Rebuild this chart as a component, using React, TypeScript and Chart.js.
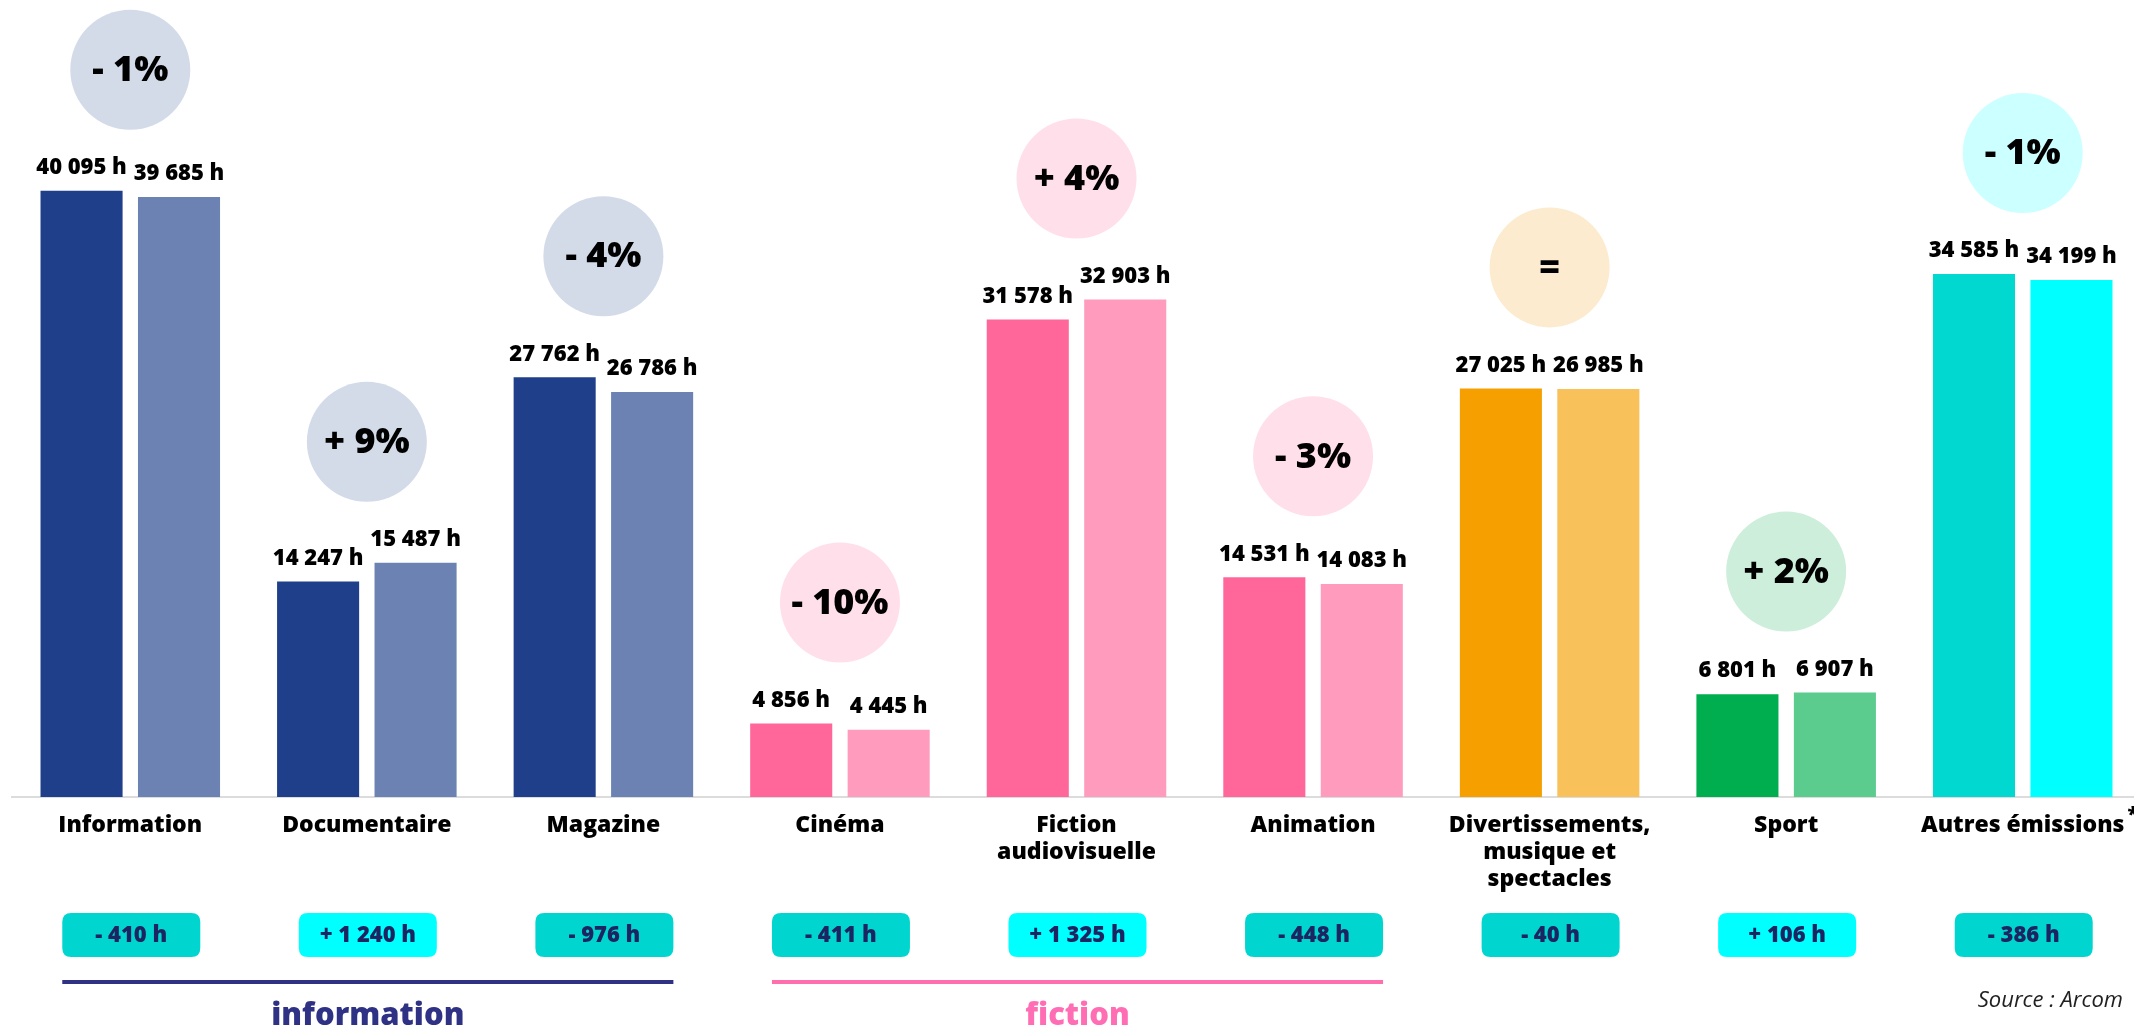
import React, { useEffect, useRef } from 'react';
import { Chart, registerables } from 'chart.js';

Chart.register(...registerables);

// ---------- data ----------
const categories: string[][] = [
  ['Information'],
  ['Documentaire'],
  ['Magazine'],
  ['Cinéma'],
  ['Fiction', 'audiovisuelle'],
  ['Animation'],
  ['Divertissements,', 'musique et', 'spectacles'],
  ['Sport'],
  ['Autres émissions'],
];
const hoursPrevious = [40095, 14247, 27762, 4856, 31578, 14531, 27025, 6801, 34585];
const hoursCurrent = [39685, 15487, 26786, 4445, 32903, 14083, 26985, 6907, 34199];
const percentLabels = ['- 1%', '+ 9%', '- 4%', '- 10%', '+ 4%', '- 3%', '=', '+ 2%', '- 1%'];
const categoryFamily = ['info', 'info', 'info', 'fiction', 'fiction', 'fiction', 'divert', 'sport', 'autres'];
const footnoteIndex = 8;
const groupNames = ['information', 'fiction'];
const groupFirst = [0, 3];
const groupLast = [2, 5];
const sourceText = 'Source : Arcom';

// ---------- styles ----------
const FONT = '"Open Sans", "DejaVu Sans", sans-serif';
const darkColor: Record<string, string> = {
  info: '#1F3F8A',
  fiction: '#FF6699',
  divert: '#F5A000',
  sport: '#00AD4F',
  autres: '#00D8D0',
};
const lightColor: Record<string, string> = {
  info: '#6B82B2',
  fiction: '#FF9CBE',
  divert: '#F8C15A',
  sport: '#5BCB8E',
  autres: '#00FFFF',
};
const bubbleColor: Record<string, string> = {
  info: '#D3DBE9',
  fiction: '#FFE0EA',
  divert: '#FCEBCF',
  sport: '#CDEEDB',
  autres: '#CCFFFF',
};
const groupColor = ['#2E3184', '#FF6EAD'];
const groupTextColor = ['#2E3184', '#FF6EB4'];

function fmtHours(v: number): string {
  return String(Math.abs(v)).replace(/\B(?=(\d{3})+(?!\d))/g, ' ') + ' h';
}

function roundRect(ctx: CanvasRenderingContext2D, x: number, y: number, w: number, h: number, r: number) {
  ctx.beginPath();
  ctx.moveTo(x + r, y);
  ctx.lineTo(x + w - r, y);
  ctx.quadraticCurveTo(x + w, y, x + w, y + r);
  ctx.lineTo(x + w, y + h - r);
  ctx.quadraticCurveTo(x + w, y + h, x + w - r, y + h);
  ctx.lineTo(x + r, y + h);
  ctx.quadraticCurveTo(x, y + h, x, y + h - r);
  ctx.lineTo(x, y + r);
  ctx.quadraticCurveTo(x, y, x + r, y);
  ctx.closePath();
}

const overlayPlugin = {
  id: 'overlay',
  afterDatasetsDraw(chart: any) {
    const ctx: CanvasRenderingContext2D = chart.ctx;
    const xs = chart.scales.x;
    const ys = chart.scales.y;
    const metas = [chart.getDatasetMeta(0), chart.getDatasetMeta(1)];
    const base = ys.getPixelForValue(0);
    ctx.save();

    // value labels above bars
    ctx.font = `800 22px ${FONT}`;
    ctx.fillStyle = '#000';
    ctx.textAlign = 'center';
    ctx.textBaseline = 'middle';
    metas.forEach((meta, di) => {
      meta.data.forEach((bar: any, i: number) => {
        const v = chart.data.datasets[di].data[i] as number;
        ctx.fillText(fmtHours(v), bar.x, bar.y - 23);
      });
    });

    // percentage bubbles
    categories.forEach((_, i) => {
      const cx = xs.getPixelForValue(i);
      const top = Math.min(metas[0].data[i].y, metas[1].data[i].y);
      const cy = top - 121;
      ctx.beginPath();
      ctx.arc(cx, cy, 60, 0, Math.PI * 2);
      ctx.fillStyle = bubbleColor[categoryFamily[i]];
      ctx.fill();
      ctx.fillStyle = '#000';
      ctx.font = `800 36px ${FONT}`;
      ctx.textAlign = 'center';
      ctx.textBaseline = 'middle';
      ctx.fillText(percentLabels[i], cx, cy + 1);
    });

    // change boxes
    const boxW = 138;
    const boxH = 44;
    const boxTop = base + 116;
    categories.forEach((_, i) => {
      const cx = xs.getPixelForValue(i) + 1;
      const d = hoursCurrent[i] - hoursPrevious[i];
      ctx.fillStyle = d > 0 ? '#00FFFF' : '#00D6CF';
      roundRect(ctx, cx - boxW / 2, boxTop, boxW, boxH, 9);
      ctx.fill();
      ctx.fillStyle = '#1C2461';
      ctx.font = `800 22px ${FONT}`;
      ctx.textAlign = 'center';
      ctx.textBaseline = 'middle';
      ctx.fillText((d > 0 ? '+ ' : '- ') + fmtHours(d), cx, boxTop + boxH / 2 + 1);
    });

    // group lines and titles
    groupNames.forEach((name, g) => {
      const x0 = xs.getPixelForValue(groupFirst[g]) + 1 - boxW / 2;
      const x1 = xs.getPixelForValue(groupLast[g]) + 1 + boxW / 2;
      ctx.fillStyle = groupColor[g];
      ctx.fillRect(x0, base + 183, x1 - x0, 4);
      ctx.fillStyle = groupTextColor[g];
      ctx.font = `800 31px ${FONT}`;
      ctx.textAlign = 'center';
      ctx.textBaseline = 'middle';
      ctx.fillText(name, (x0 + x1) / 2, base + 219);
    });

    // footnote asterisk
    ctx.font = `800 23px ${FONT}`;
    const lbl = categories[footnoteIndex][0];
    const w = ctx.measureText(lbl).width;
    const fx = xs.getPixelForValue(footnoteIndex) + w / 2 + 3;
    ctx.textAlign = 'left';
    ctx.textBaseline = 'middle';
    ctx.fillStyle = '#000';
    ctx.font = `800 20px ${FONT}`;
    ctx.fillText('*', fx, base + 18);

    // source
    ctx.font = `italic 400 22px ${FONT}`;
    ctx.fillStyle = '#222';
    ctx.textAlign = 'right';
    ctx.fillText(sourceText, 2123, base + 204);

    ctx.restore();
  },
};

export default function App() {
  const ref = useRef<HTMLCanvasElement | null>(null);

  useEffect(() => {
    if (!ref.current) return;
    const chart = new Chart(ref.current, {
      type: 'bar',
      data: {
        labels: categories,
        datasets: [
          {
            label: 'Année N-1',
            data: hoursPrevious,
            backgroundColor: categoryFamily.map((f) => darkColor[f]),
            borderWidth: 0,
            categoryPercentage: 0.824,
            barPercentage: 0.842,
          },
          {
            label: 'Année N',
            data: hoursCurrent,
            backgroundColor: categoryFamily.map((f) => lightColor[f]),
            borderWidth: 0,
            categoryPercentage: 0.824,
            barPercentage: 0.842,
          },
        ],
      },
      options: {
        responsive: false,
        animation: false,
        devicePixelRatio: 1,
        layout: { padding: { left: 12, right: 1, top: 41, bottom: 0 } },
        plugins: {
          legend: { display: false },
          tooltip: { enabled: false },
        },
        scales: {
          x: {
            grid: { display: false, drawTicks: false },
            border: { display: true, color: '#DCDCDC', width: 2 },
            ticks: {
              color: '#000',
              padding: 15,
              maxRotation: 0,
              autoSkip: false,
              font: { family: FONT, weight: 800, size: 23, lineHeight: 27 / 23 },
            },
            afterFit: (s: any) => {
              s.height = 236;
            },
          },
          y: { display: false, min: 0, max: 50000 },
        },
      },
      plugins: [overlayPlugin],
    } as any);
    return () => chart.destroy();
  }, []);

  return (
    <div
      style={{
        position: 'absolute',
        left: 0,
        top: 0,
        width: 2134,
        height: 1033,
        overflow: 'hidden',
        background: '#fff',
      }}
    >
      <canvas ref={ref} width={2142} height={1033} style={{ width: 2142, height: 1033, display: 'block' }} />
    </div>
  );
}
